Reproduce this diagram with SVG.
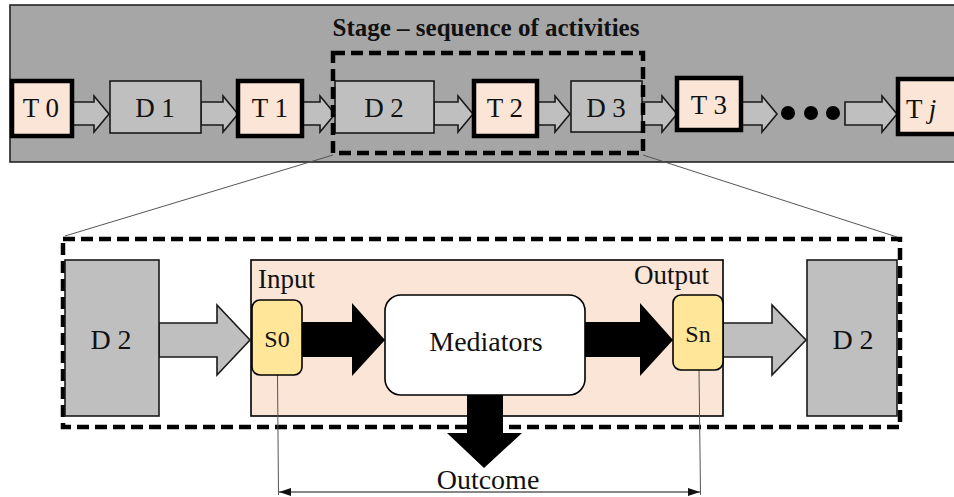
<svg xmlns="http://www.w3.org/2000/svg" width="954" height="497" viewBox="0 0 954 497">
<style>
.t{fill:#fbe5d6;stroke:#000;stroke-width:4.5}
.d{fill:#bfbfbf;stroke:#1a1a1a;stroke-width:1.6}
.ga{fill:#bfbfbf;stroke:#1a1a1a;stroke-width:1.6;stroke-linejoin:miter}
.ba{fill:#000;stroke:none}
.s{fill:#ffe699;stroke:#000;stroke-width:1.6}
.lbl{font-family:"Liberation Serif","Times New Roman",serif;fill:#111;text-anchor:middle}
.st{text-anchor:start}
.en{text-anchor:end}
.dash{fill:none;stroke:#000;stroke-width:4.5;stroke-dasharray:12 6}
.thin{fill:none;stroke:#555;stroke-width:1}
</style>
<defs>
<marker id="ah" markerWidth="12" markerHeight="8" refX="12" refY="4" orient="auto-start-reverse" markerUnits="userSpaceOnUse">
<path d="M0,0 L12,4 L0,8 Z" fill="#111"/>
</marker>
</defs>

<!-- top panel -->
<rect id="panel" x="10" y="5" width="960" height="157" fill="#a6a6a6" stroke="#222" stroke-width="1.6"/>
<text x="486" y="36" class="lbl" font-size="25" font-weight="bold">Stage – sequence of activities</text>

<!-- process container (background of detail) -->
<g id="process">
<rect x="251" y="260" width="472" height="156" fill="#fbe5d6" stroke="#000" stroke-width="1.6"/>
<text class="lbl st" x="258" y="288" font-size="27">Input</text>
<text class="lbl en" x="709" y="284" font-size="27">Output</text>
</g>
<g id="detail"><rect class="dash" x="63" y="239" width="837" height="188"/></g>

<g id="connectors">
<!-- top block arrows -->
<polygon class="ga" points="72,102 94,102 94,96 109,114 94,132 94,125 72,125"/>
<polygon class="ga" points="201,102 223,102 223,96 238,114 223,132 223,125 201,125"/>
<polygon class="ga" points="302,102 320,102 320,96 335,114 320,132 320,125 302,125"/>
<polygon class="ga" points="434,102 458,102 458,96 473,114 458,132 458,125 434,125"/>
<polygon class="ga" points="537,102 555,102 555,96 570,114 555,132 555,125 537,125"/>
<polygon class="ga" points="642,102 662,102 662,96 677,114 662,132 662,125 642,125"/>
<polygon class="ga" points="741,102 762,102 762,96 777,114 762,132 762,125 741,125"/>
<polygon class="ga" points="845,102 882,102 882,96 897,114 882,132 882,125 845,125"/>
<!-- zoom lines -->
<line class="thin" x1="333" y1="155" x2="65" y2="236"/>
<line class="thin" x1="643" y1="155" x2="897" y2="237"/>
<!-- bottom arrows -->
<polygon class="ga" points="159,323 217,323 217,305 250,340 217,375 217,357 159,357"/>
<polygon class="ba" points="300,322 352,322 352,303 385,340 352,376 352,357 300,357"/>
<polygon class="ba" points="583,322 640,322 640,303 673,340 640,376 640,357 583,357"/>
<polygon class="ga" points="723,323 772,323 772,305 806,340 772,375 772,357 723,357"/>
<polygon class="ba" points="467,393 503,393 503,433 522,433 484,468 447,433 467,433"/>
<!-- measurement lines -->
<line class="thin" x1="277.5" y1="375" x2="278.5" y2="495"/>
<line class="thin" x1="699" y1="370" x2="700.5" y2="495"/>
<line x1="279" y1="492" x2="700" y2="492" stroke="#111" stroke-width="1" marker-start="url(#ah)" marker-end="url(#ah)"/>
</g>

<g id="T0"><rect class="t" x="12" y="81" width="60" height="55"/><text class="lbl" x="41" y="117" font-size="27">T 0</text></g>
<g id="D1"><rect class="d" x="110" y="81" width="91" height="52"/><text class="lbl" x="155" y="117" font-size="27">D 1</text></g>
<g id="T1"><rect class="t" x="238" y="81" width="64" height="55"/><text class="lbl" x="270" y="117" font-size="27">T 1</text></g>
<g id="D2top"><rect class="d" x="335" y="81" width="99" height="52"/><text class="lbl" x="384" y="117" font-size="27">D 2</text></g>
<g id="T2"><rect class="t" x="474" y="81" width="63" height="55"/><text class="lbl" x="505" y="117" font-size="27">T 2</text></g>
<g id="D3"><rect class="d" x="571" y="81" width="71" height="51"/><text class="lbl" x="606" y="117" font-size="27">D 3</text></g>
<g id="T3"><rect class="t" x="677" y="78" width="64" height="52"/><text class="lbl" x="709" y="114" font-size="27">T 3</text></g>
<g id="dots"><circle cx="788" cy="113" r="7" fill="#000"/><circle cx="811" cy="113" r="7" fill="#000"/><circle cx="833" cy="113" r="7" fill="#000"/></g>
<g id="Tj"><rect class="t" x="898" y="79" width="70" height="55"/><text class="lbl st" x="906" y="118" font-size="27">T <tspan font-style="italic">j</tspan></text></g>

<g id="stage"><rect class="dash" x="333" y="53" width="310" height="100"/></g>

<!-- bottom detail -->
<g id="D2left"><rect class="d" x="65" y="260" width="94" height="156"/><text class="lbl" x="111" y="349" font-size="28">D 2</text></g>
<g id="S0"><rect class="s" x="252" y="300" width="50" height="75" rx="8"/><text class="lbl" x="277" y="347" font-size="24">S0</text></g>
<g id="Mediators"><rect x="385" y="295" width="200" height="100" rx="16" fill="#fff" stroke="#000" stroke-width="1.6"/><text class="lbl" x="486" y="351" font-size="28">Mediators</text></g>
<g id="Sn"><rect class="s" x="673" y="295" width="50" height="75" rx="8"/><text class="lbl" x="698" y="342" font-size="24">Sn</text></g>
<g id="D2right"><rect class="d" x="807" y="260" width="90" height="156"/><text class="lbl" x="853" y="349" font-size="28">D 2</text></g>
<g id="Outcome"><text class="lbl" x="488" y="489" font-size="28">Outcome</text></g>
</svg>
